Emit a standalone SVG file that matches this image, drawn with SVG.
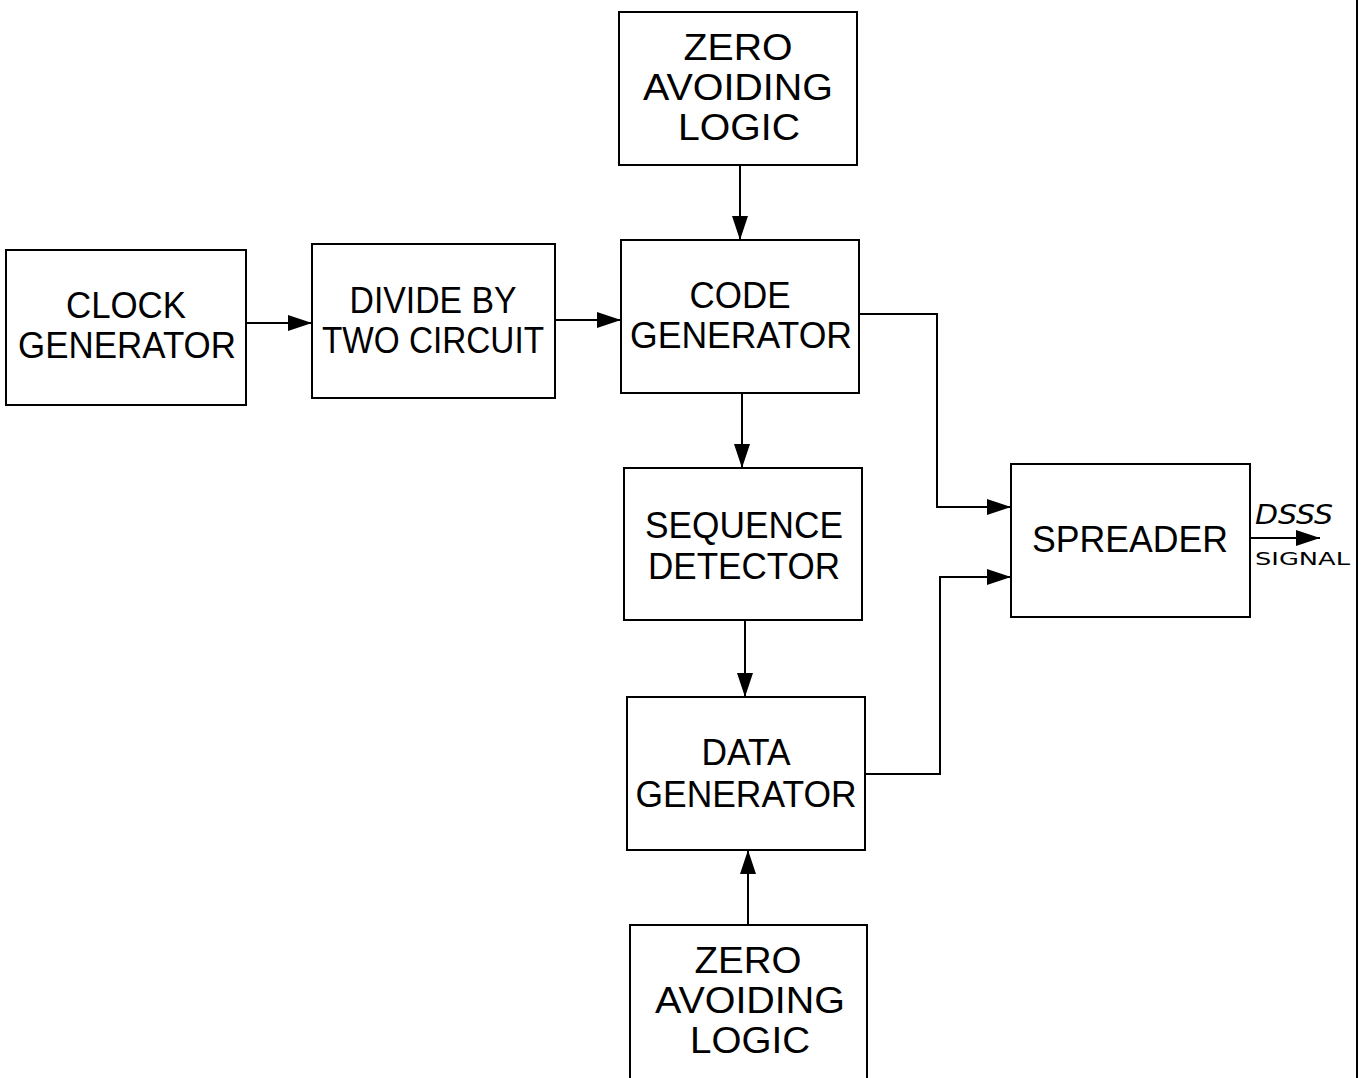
<svg xmlns="http://www.w3.org/2000/svg" width="1367" height="1078" viewBox="0 0 1367 1078">
<style>
.box{fill:#fff;stroke:#000;stroke-width:2}
.t{font-family:"Liberation Sans",Arial,sans-serif;font-size:36px;fill:#000;text-anchor:middle}
.c{fill:none;stroke:#000;stroke-width:2}
.hand{font-family:"DejaVu Sans",sans-serif;fill:#000}
</style>
<defs>
<marker id="ah" viewBox="0 0 24 16" refX="24" refY="8" markerWidth="24" markerHeight="16" markerUnits="userSpaceOnUse" orient="auto">
<path d="M0,0 L24,8 L0,16 Z" fill="#000"/>
</marker>
</defs>
<rect width="1367" height="1078" fill="#fff"/>
<g id="nodes">
<g id="zero1"><rect class="box" x="619" y="12" width="238" height="153"/>
<text class="t" x="738" y="60" textLength="109" lengthAdjust="spacingAndGlyphs">ZERO</text><text class="t" x="738" y="100" textLength="190" lengthAdjust="spacingAndGlyphs">AVOIDING</text><text class="t" x="739" y="140" textLength="122" lengthAdjust="spacingAndGlyphs">LOGIC</text></g>
<g id="clock"><rect class="box" x="6" y="250" width="240" height="155"/>
<text class="t" x="126" y="318" textLength="120" lengthAdjust="spacingAndGlyphs">CLOCK</text><text class="t" x="127" y="358" textLength="218" lengthAdjust="spacingAndGlyphs">GENERATOR</text></g>
<g id="divide"><rect class="box" x="312" y="244" width="243" height="154"/>
<text class="t" x="433" y="313" textLength="167" lengthAdjust="spacingAndGlyphs">DIVIDE BY</text><text class="t" x="433" y="353" textLength="222" lengthAdjust="spacingAndGlyphs">TWO CIRCUIT</text></g>
<g id="code"><rect class="box" x="621" y="240" width="238" height="153"/>
<text class="t" x="740" y="308" textLength="101" lengthAdjust="spacingAndGlyphs">CODE</text><text class="t" x="741" y="348" textLength="222" lengthAdjust="spacingAndGlyphs">GENERATOR</text></g>
<g id="seq"><rect class="box" x="624" y="468" width="238" height="152"/>
<text class="t" x="744" y="538" textLength="198" lengthAdjust="spacingAndGlyphs">SEQUENCE</text><text class="t" x="744" y="579" textLength="192" lengthAdjust="spacingAndGlyphs">DETECTOR</text></g>
<g id="data"><rect class="box" x="627" y="697" width="238" height="153"/>
<text class="t" x="746" y="765" textLength="89" lengthAdjust="spacingAndGlyphs">DATA</text><text class="t" x="746" y="807" textLength="221" lengthAdjust="spacingAndGlyphs">GENERATOR</text></g>
<g id="zero2"><rect class="box" x="630" y="925" width="237" height="160"/>
<text class="t" x="748" y="973" textLength="107" lengthAdjust="spacingAndGlyphs">ZERO</text><text class="t" x="750" y="1013" textLength="190" lengthAdjust="spacingAndGlyphs">AVOIDING</text><text class="t" x="750" y="1053" textLength="120" lengthAdjust="spacingAndGlyphs">LOGIC</text></g>
<g id="spreader"><rect class="box" x="1011" y="464" width="239" height="153"/>
<text class="t" x="1130" y="552" textLength="196" lengthAdjust="spacingAndGlyphs">SPREADER</text></g>
</g>
<g id="connectors">
<line class="c" x1="246" y1="323" x2="312" y2="323" marker-end="url(#ah)"/>
<line class="c" x1="555" y1="320" x2="621" y2="320" marker-end="url(#ah)"/>
<line class="c" x1="740" y1="165" x2="740" y2="240" marker-end="url(#ah)"/>
<line class="c" x1="742" y1="393" x2="742" y2="468" marker-end="url(#ah)"/>
<line class="c" x1="745" y1="620" x2="745" y2="697" marker-end="url(#ah)"/>
<line class="c" x1="748" y1="925" x2="748" y2="850" marker-end="url(#ah)"/>
<polyline class="c" points="859,314 937,314 937,507 1011,507" marker-end="url(#ah)"/>
<polyline class="c" points="865,774 940,774 940,577 1011,577" marker-end="url(#ah)"/>
<line class="c" x1="1250" y1="538" x2="1320" y2="538" marker-end="url(#ah)"/>
</g>
<g id="labels">
<text class="hand" x="1255" y="524" font-size="26" font-style="italic" textLength="78" lengthAdjust="spacingAndGlyphs">DSSS</text>
<text class="hand" x="1255" y="565" font-size="17" textLength="95" lengthAdjust="spacingAndGlyphs">SIGNAL</text>
</g>
<line x1="1357" y1="0" x2="1357" y2="1078" stroke="#000" stroke-width="2"/>
</svg>
